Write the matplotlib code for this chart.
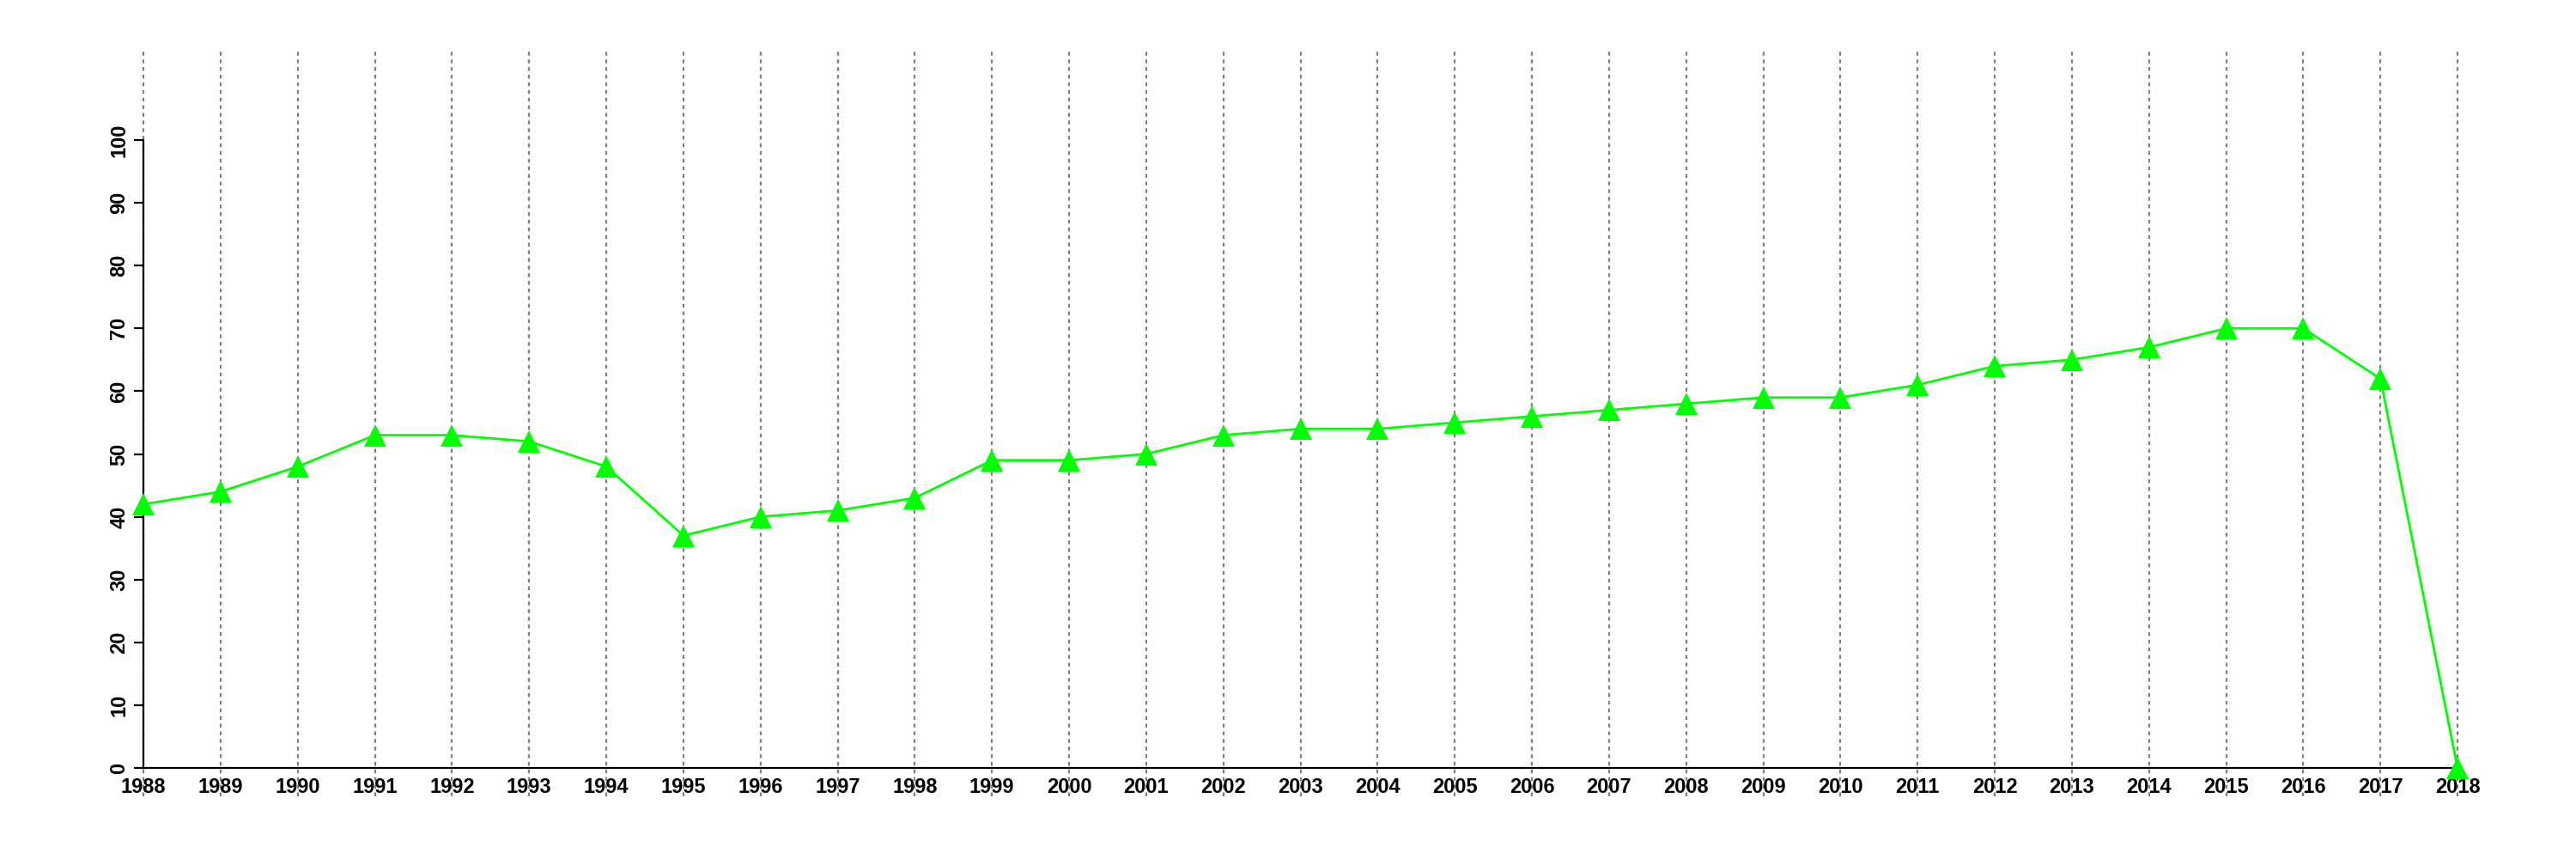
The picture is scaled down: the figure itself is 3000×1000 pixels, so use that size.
import matplotlib
matplotlib.use("Agg")
import matplotlib.pyplot as plt

years = list(range(1988, 2019))
values = [42, 44, 48, 53, 53, 52, 48, 37, 40, 41, 43, 49, 49, 50, 53, 54, 54, 55, 56,
          57, 58, 59, 59, 61, 64, 65, 67, 70, 70, 62, 0]
yticks = list(range(0, 101, 10))

plt.rcParams['font.family'] = ['Liberation Sans', 'DejaVu Sans']

fig = plt.figure(figsize=(30, 10), dpi=100)
ax = fig.add_axes([0.0557, 0.106, 0.8983, 0.731])
ax.set_xlim(1988, 2018)
ax.set_ylim(0, 100)

# vertical dotted grid lines extending beyond the plot area
for yr in years:
    ax.plot([yr, yr], [-4.5, 114.1], color='#7f7f7f', lw=1.6,
            linestyle=(0, (2.0, 2.0)), clip_on=False, zorder=1)

ax.plot(years, values, color='#00ff00', lw=2.0, marker='^', markersize=19,
        markeredgewidth=0, clip_on=False, zorder=3)

for s in ['top', 'right']:
    ax.spines[s].set_visible(False)
for s in ['left', 'bottom']:
    ax.spines[s].set_linewidth(1.6)

ax.set_xticks(years)
ax.set_xticklabels([str(y) for y in years], fontsize=17, fontweight='bold')
ax.set_yticks(yticks)
ax.set_yticklabels([str(v) for v in yticks], fontsize=17, fontweight='bold',
                   rotation=90, va='center')
ax.tick_params(axis='y', length=8, width=1.6, pad=4)
ax.tick_params(axis='x', length=0, width=1.6, pad=8)

fig.savefig('out.png', dpi=100)
